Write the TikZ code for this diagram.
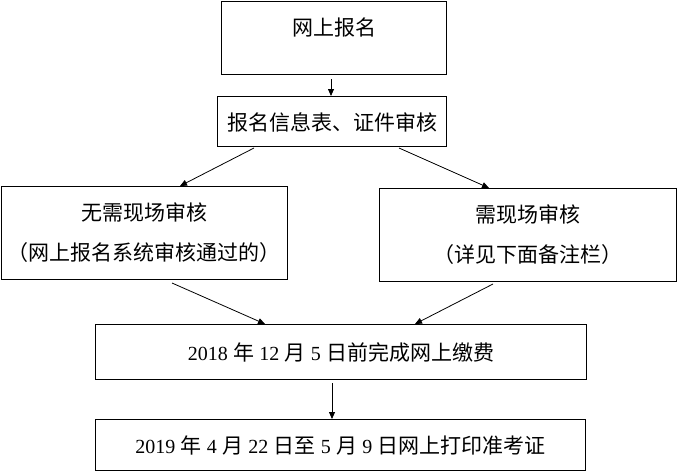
\documentclass[tikz,border=0pt]{standalone}
\usepackage{fontspec}
\setmainfont{Liberation Serif}
\newfontfamily\cjk{Noto Sans CJK SC}
\newcommand\numtxt[1]{{\fontsize{20}{40}\selectfont #1}}
\usetikzlibrary{arrows.meta}
\tikzset{
  box/.style={draw=black, line width=1pt, rectangle, anchor=north west, inner sep=0pt,
    align=center, font=\fontsize{21}{40}\selectfont},
  arr/.style={draw=black, line width=0.8pt, -{Triangle[length=7pt,width=6pt]}},
}
\begin{document}
\begin{tikzpicture}[x=1pt,y=-1pt]
\useasboundingbox (0,0) rectangle (677,471);
\node[box, minimum width=225pt, minimum height=73pt, text height=18pt, text depth=24pt] (b1) at (221,1) {\cjk 网上报名};
\node[box, minimum width=229pt, minimum height=50pt, text height=18pt, text depth=0pt] (b2) at (217,96) {\cjk 报名信息表、证件审核};
\node[box, minimum width=286pt, minimum height=93pt] (b3) at (1,186) {\cjk 无需现场审核\\\cjk （网上报名系统审核通过的）};
\node[box, minimum width=297pt, minimum height=93pt] (b4) at (379,188) {\cjk 需现场审核\\\cjk （详见下面备注栏）};
\node[box, minimum width=491pt, minimum height=55pt] (b5) at (95,324) {\numtxt{2018} {\cjk 年} \numtxt{12} {\cjk 月} \numtxt{5} {\cjk 日前完成网上缴费}};
\node[box, minimum width=490pt, minimum height=51pt] (b6) at (95,419) {\numtxt{2019} {\cjk 年} \numtxt{4} {\cjk 月} \numtxt{22} {\cjk 日至} \numtxt{5} {\cjk 月} \numtxt{9} {\cjk 日网上打印准考证}};
\draw[arr] ([xshift=110pt,yshift=-4pt]b1.south west) -- ([xshift=114pt]b2.north west);
\draw[arr] ([xshift=37pt,yshift=-1pt]b2.south west) -- ([xshift=179pt]b3.north west);
\draw[arr] ([xshift=182pt,yshift=-1pt]b2.south west) -- ([xshift=110pt]b4.north west);
\draw[arr] ([xshift=171pt,yshift=-3pt]b3.south west) -- ([xshift=170pt]b5.north west);
\draw[arr] ([xshift=114pt,yshift=-2pt]b4.south west) -- ([xshift=320pt]b5.north west);
\draw[arr] ([xshift=237pt,yshift=-3pt]b5.south west) -- ([xshift=237pt]b6.north west);
\end{tikzpicture}
\end{document}
